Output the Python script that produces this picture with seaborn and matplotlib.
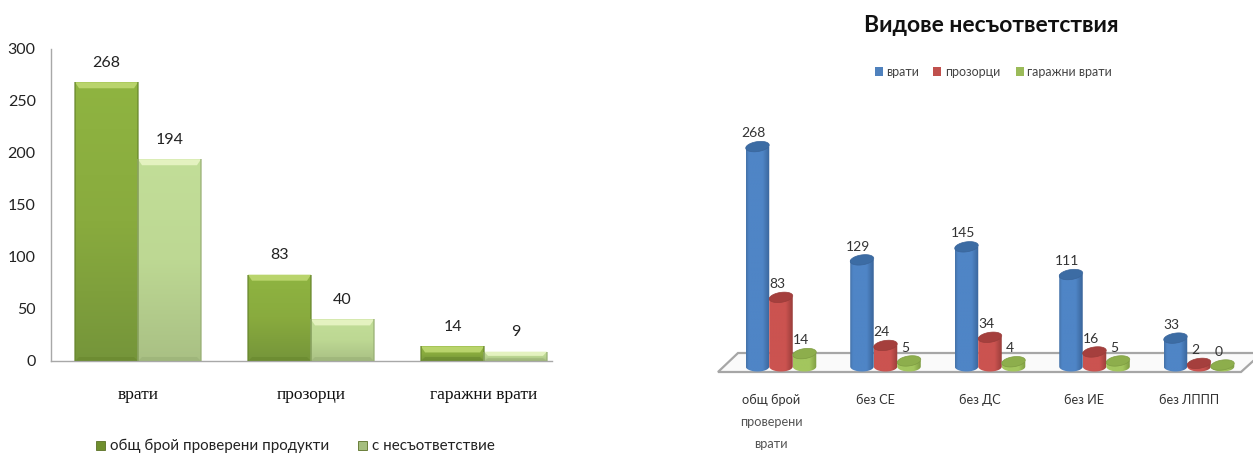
import numpy as np
import pandas as pd
import matplotlib
matplotlib.use("Agg")
import matplotlib.pyplot as plt
import seaborn as sns
from matplotlib.colors import LinearSegmentedColormap
from matplotlib.patches import Polygon, Rectangle

# ---- data ----
left_categories = ["врати", "прозорци", "гаражни врати"]
left_series = ["общ брой проверени продукти", "с несъответствие"]
left_total = [268, 83, 14]
left_nonconf = [194, 40, 9]

right_categories = ["общ брой\nпроверени\nврати", "без СЕ", "без ДС", "без ИЕ", "без ЛППП"]
right_series = ["врати", "прозорци", "гаражни врати"]
right_doors = [268, 129, 145, 111, 33]
right_windows = [83, 24, 34, 16, 2]
right_garage = [14, 5, 4, 5, 0]
right_title = "Видове несъответствия"

W, H = 1253, 455
sns.set_theme(style="white")
plt.rcParams["font.family"] = ["Lato", "DejaVu Sans"]
fig = plt.figure(figsize=(W / 100, H / 100), dpi=100)


def axes_px(l, t, r, b):
    return fig.add_axes([l / W, 1 - b / H, (r - l) / W, (b - t) / H])


# ---- left chart ----
ax = axes_px(51, 49, 552, 361)
dfl = pd.DataFrame({
    "cat": left_categories * 2,
    "s": [left_series[0]] * 3 + [left_series[1]] * 3,
    "v": left_total + left_nonconf,
})
sns.barplot(data=dfl, x="cat", y="v", hue="s", hue_order=left_series,
            order=left_categories, width=0.728, gap=0, dodge=True, ax=ax,
            palette=["#86A83C", "#B4CF8A"], legend=False, saturation=1)
XL1 = (-0.503, 2.393)
ax.set_xlim(*XL1)
ax.set_ylim(0, 300)

ramps = [
    ["#B9D46C", "#8FB441", "#89AB3E", "#75953A", "#66852C"],
    ["#E4F2C0", "#C2DE98", "#BDD893", "#A9C084", "#97AE74"],
]
n_cat = len(left_categories)
px_y = 300 / 312      # data units per pixel, vertical
px_x = 1 / 173        # data units per pixel, horizontal
for i, p in enumerate(list(ax.patches)[:2 * n_cat]):
    x0, y0, w, h = p.get_x(), p.get_y(), p.get_width(), p.get_height()
    ramp = ramps[i // n_cat]
    cm = LinearSegmentedColormap.from_list("g", [ramp[1], ramp[2], ramp[3]])
    im = ax.imshow(np.linspace(0, 1, 256)[:, None], cmap=cm, aspect="auto",
                   extent=(x0, x0 + w, y0, y0 + h), zorder=2)
    im.set_clip_path(Rectangle((x0, y0), w, h, transform=ax.transData))
    b = min(6 * px_y, h * 0.45)
    d = 4 * px_x
    bb = min(4 * px_y, h * 0.3)
    ax.add_patch(Polygon([(x0, h), (x0 + w, h), (x0 + w - d, h - b), (x0 + d, h - b)],
                         fc=ramp[0], ec="none", zorder=3))
    ax.add_patch(Polygon([(x0, 0), (x0 + w, 0), (x0 + w - d, bb), (x0 + d, bb)],
                         fc=ramp[4], ec="none", alpha=.5, zorder=3))
    ax.plot([x0, x0], [y0, y0 + h], color=ramp[4], lw=1.1, alpha=.8, zorder=4, solid_capstyle="butt")
    ax.plot([x0 + w, x0 + w], [y0, y0 + h], color=ramp[4], lw=1.1, alpha=.8, zorder=4, solid_capstyle="butt")
    ax.text(x0 + w / 2, h + 12, str(int(h)), ha="center", va="bottom", fontsize=11.5, color="#222222")
ax.set_xlim(*XL1)
ax.set_ylim(0, 300)
sns.despine(ax=ax)
for s in ("left", "bottom"):
    ax.spines[s].set_color("#A8A8A8")
    ax.spines[s].set_linewidth(1)
ax.set_xlabel("")
ax.set_ylabel("")
ax.set_yticks(range(0, 301, 50))
ax.tick_params(axis="y", length=0, pad=11, labelsize=11.5, labelcolor="#222222")
ax.set_xticks(range(3))
ax.set_xticklabels(left_categories, family=["Liberation Serif"], fontsize=12.5, color="#111111")
ax.tick_params(axis="x", length=0, pad=19)

lax = fig.add_axes([0, 0, 1, 1])
lax.set_axis_off()
lax.set_xlim(0, W)
lax.set_ylim(H, 0)
for x, c, label in [(96, "#6F8F2E", left_series[0]), (358, "#A5BE7E", left_series[1])]:
    lax.add_patch(Rectangle((x, 441), 9, 9, fc=c, ec="#5A7025", lw=.6))
    lax.text(x + 14, 446, label, va="center", ha="left", fontsize=10.9, color="#222222")

# ---- right chart ----
ax2 = axes_px(728, 100, 1253, 375)
dfr = pd.DataFrame({
    "cat": right_categories * 3,
    "s": sum([[s] * 5 for s in right_series], []),
    "v": right_doors + right_windows + right_garage,
})
pal = ["#4F81BD", "#C0504D", "#9BBB59"]
sns.barplot(data=dfr, x="cat", y="v", hue="s", hue_order=right_series,
            order=right_categories, width=0.675, gap=0, dodge=True, ax=ax2,
            palette=pal, legend=False, saturation=1)
XL = ((728 - 781) / 104.5, (1253 - 781) / 104.5)
YL = (-10 / 0.815, 265 / 0.815)   # zero line sits at y = 365 px
ax2.set_xlim(*XL)
ax2.set_ylim(*YL)
ax2.set_axis_off()
ax2.patch.set_alpha(0)

ell_h = 10 / 0.815
slant = 3 / 0.815
tops = ["#3C6CA4", "#A53F3D", "#8DAE4C"]
edges = ["#3A659A", "#9A3D3A", "#7E9C42"]
lights = ["#4F85C6", "#CB5350", "#A3C65E"]
t = np.linspace(0, 2 * np.pi, 60)
lower = np.linspace(np.pi, 2 * np.pi, 30)

for i, p in enumerate(list(ax2.patches)[:15]):
    s = i // 5
    x0, w, h = p.get_x(), p.get_width(), p.get_height()
    cm = LinearSegmentedColormap.from_list(
        "c", [(0, "#4472A8" if s == 0 else lights[s]), (0.12, lights[s]), (0.7, lights[s]), (1, edges[s])])
    p.set_visible(False)
    xc = x0 + w / 2
    z = 3 + s
    body_x = np.r_[x0, x0 + w, xc + w / 2 * np.cos(lower)[::-1]]
    body_y = np.r_[h, h, ell_h / 2 * np.sin(lower)[::-1] - ell_h * 0.15]
    im = ax2.imshow(np.linspace(0, 1, 64)[None, :], cmap=cm, aspect="auto",
                    extent=(x0, x0 + w, -ell_h, max(h, 0.01)), zorder=z)
    im.set_clip_path(Polygon(np.c_[body_x, body_y], closed=True, transform=ax2.transData))
    ex = w / 2 * np.cos(t)
    ey = ell_h / 2 * np.sin(t) + slant * ex / w
    ax2.add_patch(Polygon(np.c_[xc + ex, h + ey], closed=True, fc=tops[s],
                          ec=edges[s], lw=.5, zorder=z + .1, clip_on=False))
    ax2.text(xc - 0.035, h + 9, str(int(h)), ha="center", va="bottom",
             fontsize=10, color="#333333", zorder=10)
ax2.set_xlim(*XL)
ax2.set_ylim(*YL)

# floor of the 3D plot
lax.add_patch(Polygon([(718, 372), (738, 353), (1262, 353), (1241, 372)], closed=True,
                      fc="#FAFAFA", ec="#A6A6A6", lw=1.6, zorder=0, clip_on=False))
lax.set_zorder(0)
ax.set_zorder(1)
ax2.set_zorder(2)

for i, c in enumerate(right_categories):
    xc = 771 + 104.5 * i
    for j, part in enumerate(c.split("\n")):
        fig.text(xc / W, 1 - (400 + j * 22) / H, part, ha="center", va="center",
                 fontsize=9.2, color="#333333" if j == 0 else "#555555")

fig.text(991 / W, 1 - 26 / H, right_title, ha="center", va="center", fontsize=16.5,
         fontweight="bold", color="#111111")
for x, tx, c, label in [(875, 886, pal[0], right_series[0]),
                        (933, 945, pal[1], right_series[1]),
                        (1016, 1027, pal[2], right_series[2])]:
    lax.add_patch(Rectangle((x, 67), 8, 9, fc=c, ec="none"))
    lax.text(tx, 72, label, va="center", ha="left", fontsize=9, color="#444444")

fig.savefig("out.png", dpi=100)
